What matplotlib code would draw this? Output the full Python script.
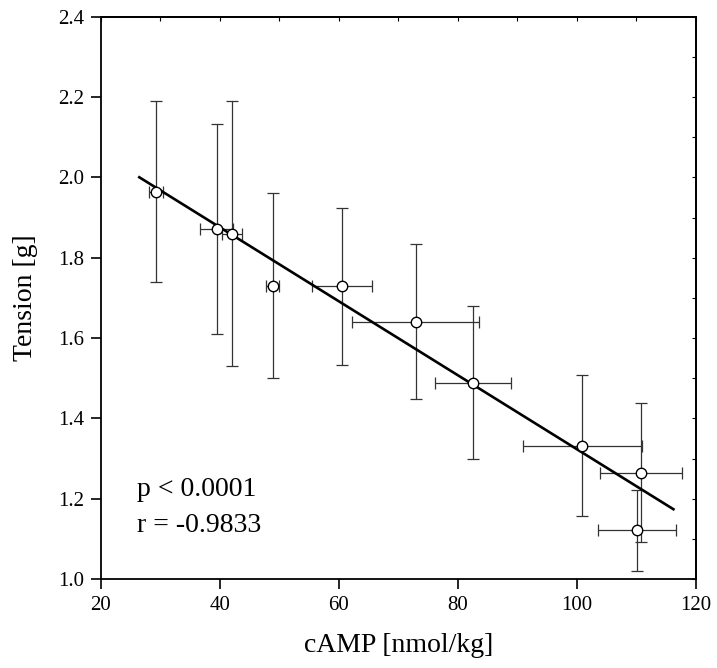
import matplotlib
matplotlib.use("Agg")
import matplotlib.pyplot as plt
from matplotlib.ticker import MultipleLocator, NullFormatter

# Data
camp = [29.3, 39.5, 42.1, 48.9, 60.5, 72.9, 82.5, 100.9, 110.8, 110.1]
camp_err = [1.25, 2.8, 1.7, 1.1, 5.0, 10.6, 6.35, 10.0, 6.9, 6.5]
tension = [1.964, 1.871, 1.860, 1.730, 1.729, 1.641, 1.489, 1.332, 1.265, 1.121]
tension_err = [0.225, 0.261, 0.33, 0.23, 0.195, 0.192, 0.19, 0.175, 0.173, 0.10]

fit_x = [26.3, 116.4]
fit_y = [2.002, 1.172]

annot_lines = ["p < 0.0001", "r = -0.9833"]

plt.rcParams['font.family'] = ['Liberation Serif', 'DejaVu Serif']

fig = plt.figure(figsize=(7.17, 6.68), dpi=100)
ax = fig.add_axes([0.1404, 0.1332, 0.8303, 0.8418])

ax.errorbar(camp, tension, xerr=camp_err, yerr=tension_err, fmt='none',
            ecolor='#333333', elinewidth=0.9, capsize=4.5, capthick=0.9, zorder=2)
ax.plot(fit_x, fit_y, color='black', lw=1.9, zorder=3, solid_capstyle='butt')
ax.plot(camp, tension, 'o', ms=7.5, mfc='white', mec='black', mew=1.0, zorder=4)

ax.set_xlim(20, 120)
ax.set_ylim(1.0, 2.4)
ax.xaxis.set_major_locator(MultipleLocator(20))
ax.yaxis.set_major_locator(MultipleLocator(0.2))
ax.yaxis.set_major_formatter(matplotlib.ticker.FormatStrFormatter('%.1f'))

for s in ax.spines.values():
    s.set_linewidth(1.3)

ax.tick_params(axis='both', which='major', direction='out', length=7, width=1.2,
               labelsize=15, pad=5)

secx = ax.secondary_xaxis('top')
secx.xaxis.set_major_locator(MultipleLocator(10))
secx.xaxis.set_major_formatter(NullFormatter())
secx.tick_params(direction='in', length=3, width=0.8)
secx.spines['top'].set_linewidth(1.3)

secy = ax.secondary_yaxis('right')
secy.yaxis.set_major_locator(MultipleLocator(0.1))
secy.yaxis.set_major_formatter(NullFormatter())
secy.tick_params(direction='in', length=3, width=0.8)
secy.spines['right'].set_linewidth(1.3)

ax.set_xlabel('cAMP [nmol/kg]', fontsize=20, labelpad=13)
ax.set_ylabel('Tension [g]', fontsize=20, labelpad=14)

ax.text(26.1, 1.222, annot_lines[0], fontsize=20, va='center', ha='left')
ax.text(26.1, 1.133, annot_lines[1], fontsize=20, va='center', ha='left')

fig.savefig('out.png', dpi=100)
